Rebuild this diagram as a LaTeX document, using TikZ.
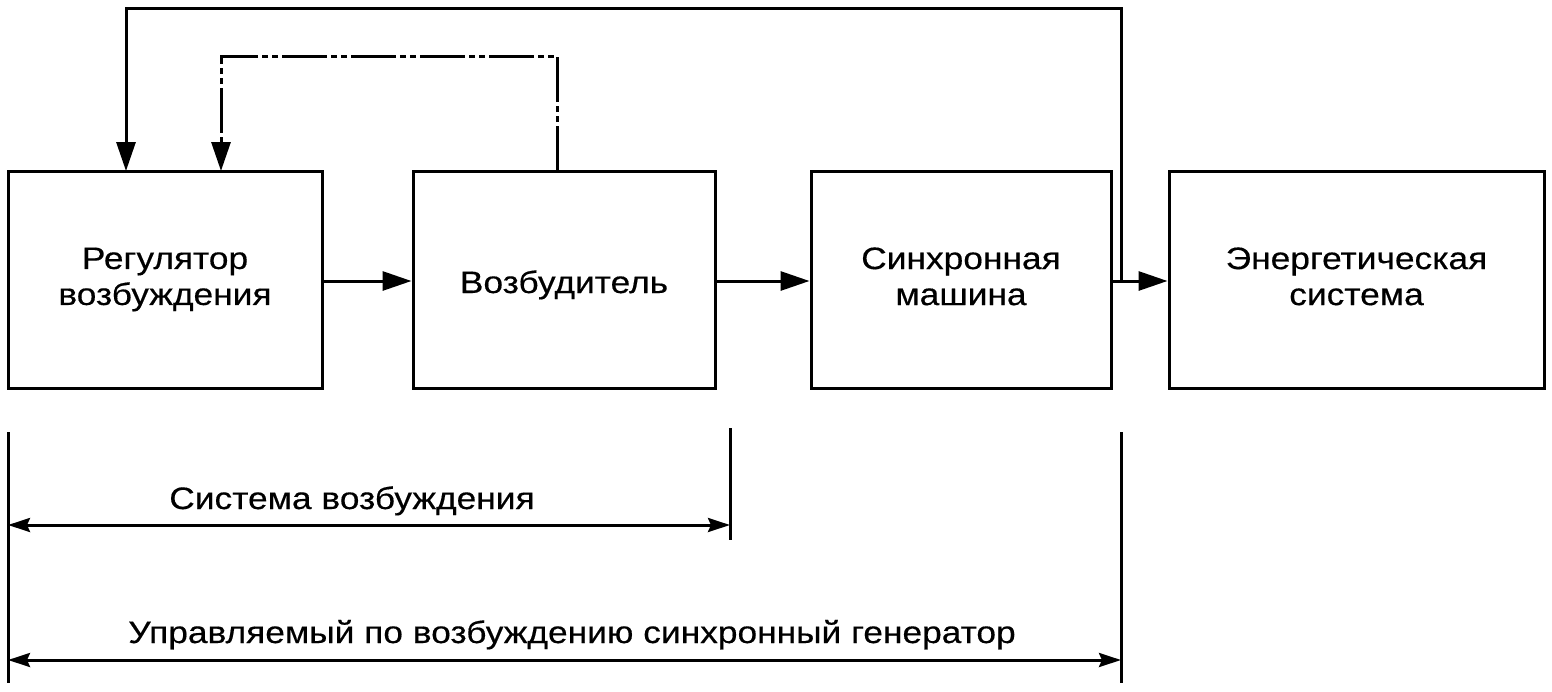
\documentclass[tikz,border=0pt]{standalone}
\usepackage{fontspec}
\setmainfont{Liberation Sans}[FakeStretch=1.14,FakeBold=0.4]
\usetikzlibrary{arrows.meta}
\begin{document}
\begin{tikzpicture}[x=1pt,y=-1pt,
  blk/.style={draw,line width=3pt,minimum height=217pt,inner sep=0pt,align=center,
    font=\fontsize{31}{36}\selectfont},
  conn/.style={line width=3pt,-{Triangle[length=29pt,width=19pt]}},
  dim/.style={line width=3pt,{Stealth[length=22pt,width=14pt,inset=3pt]}-{Stealth[length=22pt,width=14pt,inset=3pt]}},
  lim/.style={line width=3pt},
  lbl/.style={font=\fontsize{31}{36}\selectfont,inner sep=0pt,anchor=base},
  dashdot/.style={line width=3pt,dash pattern=on 45pt off 4pt on 6pt off 4pt on 6pt off 4pt}]
\useasboundingbox (0,0) rectangle (1552,691);
\node[blk,minimum width=314pt] (b1) at (165,279.5) {Регулятор\\возбуждения};
\node[blk,minimum width=302pt,text height=27pt,text depth=0pt] (b2) at (564,279.5) {Возбудитель};
\node[blk,minimum width=300pt,text depth=6.5pt] (b3) at (961,279.5) {Синхронная\\машина};
\node[blk,minimum width=375pt,text depth=6.5pt] (b4) at (1356.5,279.5) {Энергетическая\\система};
\draw[conn] (b1.east |- 0,281) -- (b2.west |- 0,281);
\draw[conn] (b2.east |- 0,281) -- (b3.west |- 0,281);
\draw[conn] (b3.east |- 0,281) -- (b4.west |- 0,281);
\coordinate (fb) at (1121,281);
\coordinate (fbtop) at (1121,8);
\coordinate (b1in) at (126,171);
\draw[conn] (fb) -- (fbtop) -| (b1in);
\coordinate (b2out) at (557,171);
\coordinate (b1in2) at (221,171);
\draw[dashdot] (b2out) -- (557,56) -- (221,56) -- (221,140);
\draw[conn] (221,138) -- (b1in2);
% dimension lines
\coordinate (l1a) at (8,432); \coordinate (l1b) at (8,683);
\coordinate (l2a) at (730,428); \coordinate (l2b) at (730,540);
\coordinate (l3a) at (1121,432); \coordinate (l3b) at (1121,683);
\draw[lim] (l1a) -- (l1b);
\draw[lim] (l2a) -- (l2b);
\draw[lim] (l3a) -- (l3b);
\coordinate (d1a) at (8,525); \coordinate (d1b) at (730,525);
\coordinate (d2a) at (8,660); \coordinate (d2b) at (1121,660);
\draw[dim] (d1a) -- (d1b);
\draw[dim] (d2a) -- (d2b);
\node[lbl] (t1) at (352,509) {Система возбуждения};
\node[lbl] (t2) at (572,643) {Управляемый по возбуждению синхронный генератор};
\end{tikzpicture}
\end{document}
